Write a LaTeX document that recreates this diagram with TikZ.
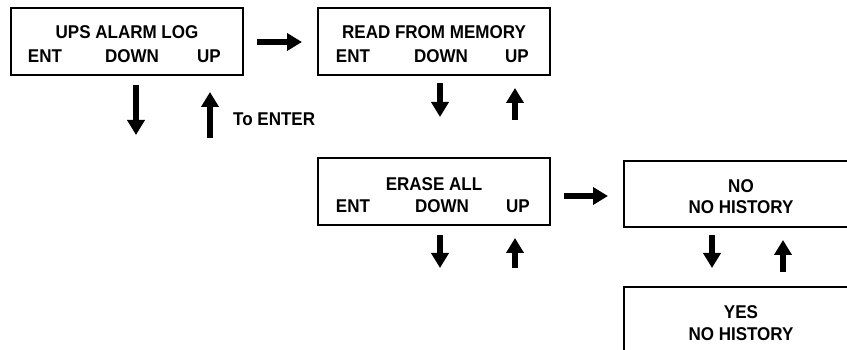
\documentclass[tikz,border=0pt]{standalone}
\usepackage{fontspec}
\setmainfont{Liberation Sans}[FakeStretch=0.92]
\usetikzlibrary{arrows.meta, positioning, calc}

\begin{document}
\begin{tikzpicture}[x=1pt, y=-1pt,
    font=\fontsize{18.5}{22}\selectfont\bfseries,
    screen/.style={draw, line width=2pt, minimum width=232pt, minimum height=67pt, inner sep=0pt},
    key/.style={inner sep=0pt},
    flow/.style={-{Triangle[length=15pt, width=17pt]}, line width=5.5pt}]
    \useasboundingbox (0,0) rectangle (847,350);
    % Screens
    \node[screen] (log) at (127,42) {};
    \node[screen] (read) at (434,42) {};
    \node[screen] (erase) at (434,192) {};
    \node[screen, minimum width=234pt, minimum height=66pt] (no) at (741,194) {};
    \node[screen, minimum width=234pt, minimum height=66pt] (yes) at (741,320) {};
    % Screen texts
    \node[key] (logtitle) at ($(log.north)+(0,25)$) {UPS ALARM LOG};
    \node[key] (logent) at ($(log.north west)+(35,49)$) {ENT};
    \node[key] (logdown) at ($(log.north west)+(122,49)$) {DOWN};
    \node[key] (logup) at ($(log.north west)+(199,49)$) {UP};
    \node[key] (readtitle) at ($(read.north)+(0,25)$) {READ FROM MEMORY};
    \node[key] (readent) at ($(read.north west)+(36,49)$) {ENT};
    \node[key] (readdown) at ($(read.north west)+(124,49)$) {DOWN};
    \node[key] (readup) at ($(read.north west)+(200,49)$) {UP};
    \node[key] (erasetitle) at ($(erase.north)+(0,27)$) {ERASE ALL};
    \node[key] (eraseent) at ($(erase.north west)+(36,49)$) {ENT};
    \node[key] (erasedown) at ($(erase.north west)+(125,49)$) {DOWN};
    \node[key] (eraseup) at ($(erase.north west)+(201,49)$) {UP};
    \node[key] (notitle) at ($(no.north)+(0,26)$) {NO};
    \node[key] (nohist) at ($(no.north)+(0,47)$) {NO HISTORY};
    \node[key] (yestitle) at ($(yes.north)+(0,26)$) {YES};
    \node[key] (yeshist) at ($(yes.north)+(0,48)$) {NO HISTORY};
    % Sideways arrows
    \draw[flow, shorten <=13pt, shorten >=15pt] (log.east) -- (read.west);
    \draw[flow, shorten <=13pt, shorten >=15pt] ($(erase.east)+(0,4)$) -- ($(no.west)+(0,2)$);
    % Up and down arrows
    \coordinate (logd1) at (136,85);  \coordinate (logd2) at (136,135);
    \coordinate (logu1) at (210,138); \coordinate (logu2) at (210,92);
    \coordinate (readd1) at (440,83); \coordinate (readd2) at (440,117);
    \coordinate (readu1) at (515,120); \coordinate (readu2) at (515,88);
    \coordinate (erased1) at (440,235); \coordinate (erased2) at (440,268);
    \coordinate (eraseu1) at (515,268); \coordinate (eraseu2) at (515,238);
    \coordinate (nod1) at (712,235); \coordinate (nod2) at (712,268);
    \coordinate (nou1) at (783,272); \coordinate (nou2) at (783,240);
    \draw[flow] (logd1) -- (logd2);
    \draw[flow] (logu1) -- (logu2);
    \draw[flow] (readd1) -- (readd2);
    \draw[flow] (readu1) -- (readu2);
    \draw[flow] (erased1) -- (erased2);
    \draw[flow] (eraseu1) -- (eraseu2);
    \draw[flow] (nod1) -- (nod2);
    \draw[flow] (nou1) -- (nou2);
    % Note
    \node[key, anchor=west] (enter) at (233,119) {To ENTER};
\end{tikzpicture}
\end{document}
